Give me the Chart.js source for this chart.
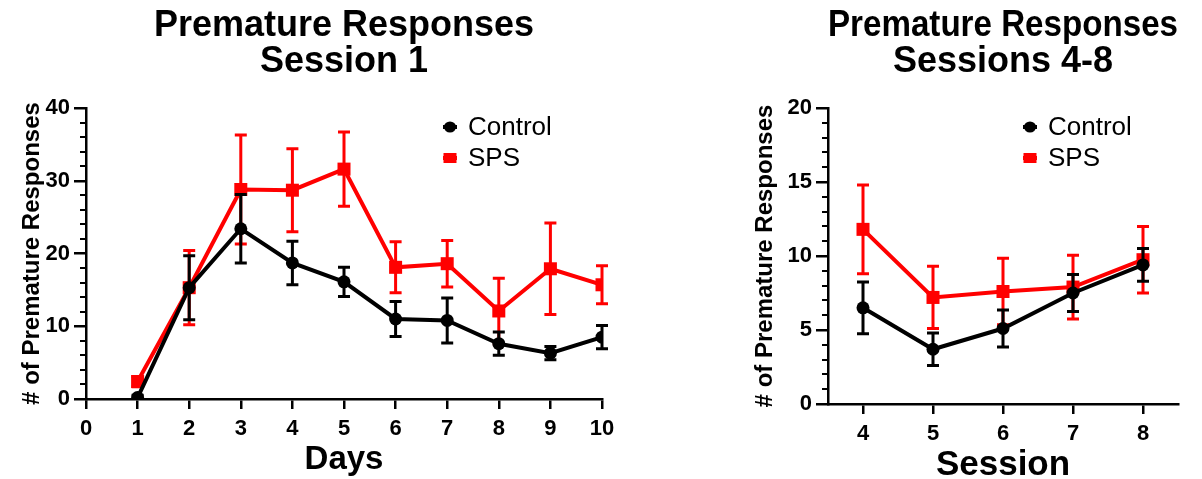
<!DOCTYPE html>
<html><head><meta charset="utf-8">
<script src="https://cdn.jsdelivr.net/npm/chart.js@4.4.0/dist/chart.umd.min.js"></script>
<style>
html,body{margin:0;padding:0;background:#fff;}
#wrap{position:relative;width:1202px;height:479px;overflow:hidden;background:#fff;}
.box{position:absolute;top:0;}
</style></head><body>
<div id="wrap">
<div class="box" style="left:0;"><canvas id="c1" width="640" height="479"></canvas></div>
<div class="box" style="left:640px;"><canvas id="c2" width="562" height="479"></canvas></div>
</div>
<script>
// ---- Data: Session 1 (days) ----
const days = [1, 2, 3, 4, 5, 6, 7, 8, 9, 10];
const controlDays    = [0.2, 15.3, 23.4, 18.7, 16.1, 11.0, 10.8, 7.6, 6.3, 8.5];
const controlDaysErr = [0.3, 4.4, 4.7, 3.0, 2.0, 2.4, 3.1, 1.6, 0.9, 1.6];
const spsDays        = [2.4, 15.3, 28.8, 28.7, 31.6, 18.1, 18.6, 12.1, 17.9, 15.7];
const spsDaysErr     = [0.7, 5.1, 7.5, 5.7, 5.1, 3.5, 3.2, 4.5, 6.3, 2.6];

// ---- Data: Sessions 4-8 ----
const sessions = [4, 5, 6, 7, 8];
const controlSess    = [6.5, 3.7, 5.1, 7.5, 9.4];
const controlSessErr = [1.75, 1.1, 1.25, 1.25, 1.1];
const spsSess        = [11.8, 7.2, 7.6, 7.9, 9.75];
const spsSessErr     = [3.0, 2.1, 2.25, 2.15, 2.25];

const seriesNames = ['Control', 'SPS'];
const titleLeft = ['Premature Responses', 'Session 1'];
const titleRight = ['Premature Responses', 'Sessions 4-8'];
const yTitle = '# of Premature Responses';
const xTitleLeft = 'Days';
const xTitleRight = 'Session';

const FAMILY = "'Liberation Sans', Arial, Helvetica, sans-serif";
Chart.defaults.font.family = FAMILY;
Chart.defaults.color = '#000';

const errorBars = {
  id: 'errorBars',
  afterDatasetDraw(chart, args) {
    const ds = chart.data.datasets[args.index];
    if (!ds.errors) return;
    const ys = chart.scales.y, ctx = chart.ctx;
    ctx.save();
    ctx.strokeStyle = ds.borderColor;
    ctx.lineWidth = 3;
    ctx.lineCap = 'butt';
    args.meta.data.forEach((pt, i) => {
      const v = ds.data[i].y, e = ds.errors[i];
      const x = pt.x;
      const yh = ys.getPixelForValue(v + e), yl = ys.getPixelForValue(Math.max(v - e, ys.min));
      ctx.beginPath();
      ctx.moveTo(x, yh); ctx.lineTo(x, yl);
      ctx.moveTo(x - 6, yh); ctx.lineTo(x + 6, yh);
      if (v - e >= ys.min) { ctx.moveTo(x - 6, yl); ctx.lineTo(x + 6, yl); }
      ctx.stroke();
    });
    ctx.restore();
  }
};

const minorTicks = {
  id: 'minorTicks',
  afterDraw(chart, args, opts) {
    const y = chart.scales.y, ctx = chart.ctx;
    ctx.save();
    ctx.strokeStyle = '#000';
    ctx.lineWidth = 2;
    for (let v = y.min; v <= y.max + 1e-9; v += opts.step) {
      const r = v / opts.major;
      if (Math.abs(r - Math.round(r)) < 1e-9) continue;
      const py = Math.round(y.getPixelForValue(v));
      ctx.beginPath();
      ctx.moveTo(y.right, py); ctx.lineTo(y.right - opts.len, py);
      ctx.stroke();
    }
    ctx.restore();
  }
};

const insetLegend = {
  id: 'insetLegend',
  afterDraw(chart, args, opts) {
    const ca = chart.chartArea, ctx = chart.ctx;
    chart.data.datasets.forEach((ds, i) => {
      const cx = ca.left + opts.x, cy = ca.top + opts.y + i * opts.gap;
      ctx.save();
      ctx.strokeStyle = ds.borderColor;
      ctx.fillStyle = ds.backgroundColor;
      ctx.lineWidth = 4;
      ctx.beginPath(); ctx.moveTo(cx - 7, cy); ctx.lineTo(cx + 7, cy); ctx.stroke();
      ctx.beginPath();
      if (ds.pointStyle === 'rect') {
        ctx.rect(cx - 6.5, cy - 5, 13, 10);
      } else {
        ctx.ellipse(cx, cy, 6, 5.5, 0, 0, Math.PI * 2);
      }
      ctx.fill();
      ctx.fillStyle = '#000';
      ctx.font = '26px ' + FAMILY;
      ctx.textBaseline = 'middle';
      ctx.textAlign = 'left';
      ctx.fillText(ds.label, cx + opts.tx, cy + 1);
      ctx.restore();
    });
  }
};

function pts(xs, ys) { return xs.map((x, i) => ({ x: x, y: ys[i] })); }

function makeChart(id, cfg) {
  const axisFont = { size: 22, weight: 'bold' };
  return new Chart(document.getElementById(id), {
    type: 'line',
    data: {
      datasets: [
        { label: seriesNames[0], data: pts(cfg.xs, cfg.c), errors: cfg.ce,
          borderColor: '#000', backgroundColor: '#000', borderWidth: 4,
          pointStyle: 'circle', pointRadius: 6.5, pointBorderWidth: 0, tension: 0 },
        { label: seriesNames[1], data: pts(cfg.xs, cfg.s), errors: cfg.se,
          borderColor: '#ff0000', backgroundColor: '#ff0000', borderWidth: 4,
          pointStyle: 'rect', pointRadius: 9.2, pointBorderWidth: 0, tension: 0 }
      ]
    },
    options: {
      responsive: false,
      animation: false,
      events: [],
      layout: { padding: { left: 0, right: cfg.padR, top: 0, bottom: 0 } },
      scales: {
        x: {
          type: 'linear', min: cfg.xmin, max: cfg.xmax,
          afterFit: s => { s.height = cfg.xh; },
          afterBuildTicks: s => { s.ticks = cfg.xTicks.map(v => ({ value: v })); },
          ticks: { autoSkip: false, maxRotation: 0,
                   color: '#000', font: axisFont, padding: 7 },
          grid: { display: true, drawOnChartArea: false, drawTicks: true, tickLength: 10,
                  color: '#000', lineWidth: 2.5 },
          border: { display: true, color: '#000', width: 2.5 },
          title: { display: true, text: cfg.xTitle, color: '#000',
                   font: { size: cfg.xtSize, weight: 'bold', lineHeight: cfg.xtLH }, padding: { top: 0, bottom: 0 } }
        },
        y: {
          type: 'linear', min: 0, max: cfg.ymax,
          afterFit: s => { s.width = cfg.yw; },
          ticks: { stepSize: cfg.ystep, autoSkip: false, color: '#000', font: axisFont, padding: 4 },
          grid: { display: true, drawOnChartArea: false, drawTicks: true, tickLength: 12,
                  color: '#000', lineWidth: 2.5 },
          border: { display: true, color: '#000', width: 2.5 },
          title: { display: true, text: yTitle, color: '#000',
                   font: { size: 24, weight: 'bold', lineHeight: 1.2 }, padding: { top: cfg.ytPad, bottom: 0 } }
        }
      },
      plugins: {
        legend: { display: false },
        tooltip: { enabled: false },
        title: { display: true, text: cfg.title, color: '#000', fullSize: false,
                 font: { size: 36, weight: 'bold', lineHeight: 1.0 },
                 padding: { top: 8, bottom: 28 } },
        minorTicks: { step: cfg.minor, major: cfg.ystep, len: 6 },
        insetLegend: { x: cfg.legX, y: 19, gap: 31, tx: 18 }
      }
    },
    plugins: [errorBars, minorTicks, insetLegend]
  });
}

const dayTicks = [0].concat(days);

makeChart('c1', {
  xs: days, xTicks: dayTicks, c: controlDays, ce: controlDaysErr, s: spsDays, se: spsDaysErr,
  xmin: 0, xmax: 10, ymax: 40, ystep: 10, minor: 2,
  padR: 38, xh: 80, yw: 86, ytPad: 17.6, xtSize: 33, xtLH: 1.15,
  title: titleLeft, xTitle: xTitleLeft, legX: 364
});

makeChart('c2', {
  xs: sessions, xTicks: sessions, c: controlSess, ce: controlSessErr, s: spsSess, se: spsSessErr,
  xmin: 3.5, xmax: 8.5, ymax: 20, ystep: 5, minor: 1,
  padR: 24, xh: 75, yw: 188, ytPad: 110.6, xtSize: 35, xtLH: 0.8,
  title: titleRight, xTitle: xTitleRight, legX: 202
});
</script>
</body></html>
